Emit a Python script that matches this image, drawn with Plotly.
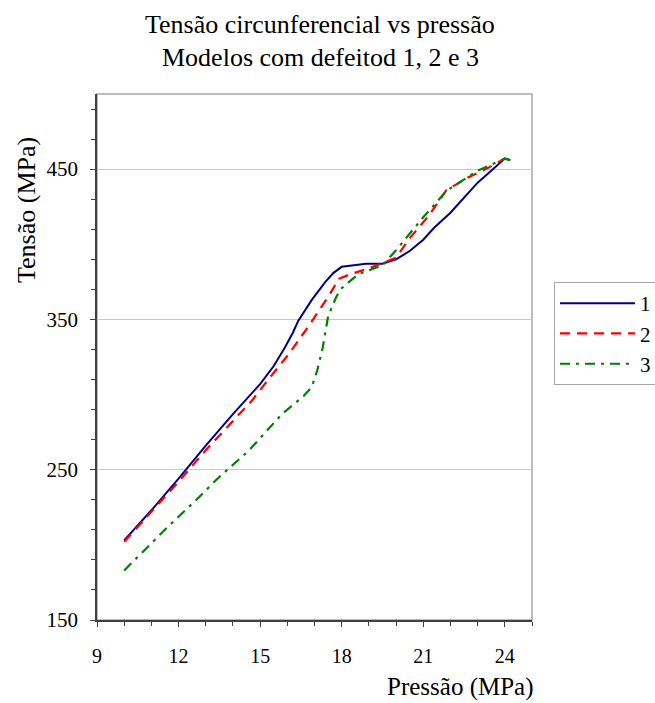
import plotly.graph_objects as go

# Data
p1 = [10, 11, 12, 13, 14, 14.6, 15, 15.5, 15.9, 16.2, 16.4, 16.9, 17.4, 17.7, 18, 18.9, 19.5, 20, 20.5, 21, 21.4, 22, 22.5, 23, 23.5, 24, 24.2]
t1 = [203, 223, 244, 266, 287, 299, 307, 319, 331, 341, 349, 363, 375, 381, 385, 387, 387, 390, 395.5, 403, 411, 421, 431, 441, 449, 457, 456]

p2 = [10, 11, 12, 13, 14, 14.7, 15.3, 16.1, 16.8, 17.5, 17.9, 18.3, 19, 20, 20.5, 21.2, 21.85, 22.65, 23.4, 24, 24.2]
t2 = [202, 222, 242, 263, 282, 296, 310, 328, 346, 365, 377, 380, 384, 391, 404, 419, 436, 444.5, 451, 457, 456]

p3 = [10, 11.55, 12.77, 13.37, 14.6, 15.8, 16.6, 16.9, 17.1, 17.3, 17.5, 17.8, 17.95, 18.6, 19.5, 20, 21, 21.85, 23, 24, 24.2]
t3 = [183, 211, 232, 243, 263, 287, 299, 305, 316, 331, 352, 365, 370, 380, 386, 396, 418, 435.5, 449, 457, 456]

names = ["1", "2", "3"]
title_lines = ["Tensão circunferencial vs pressão", "Modelos com defeitod 1, 2 e 3"]
x_title = "Pressão (MPa)"
y_title = "Tensão (MPa)"

FONT = "Liberation Serif"

fig = go.Figure()
fig.add_trace(go.Scatter(x=p1, y=t1, mode="lines", name=names[0], legendgroup="a",
                         line=dict(color="#000080", width=2)))
fig.add_trace(go.Scatter(x=p2, y=t2, mode="lines", name=names[1], legendgroup="b",
                         line=dict(color="#FF0000", width=2.2, dash="10px,7px")))
fig.add_trace(go.Scatter(x=p3, y=t3, mode="lines", name=names[2], legendgroup="c",
                         line=dict(color="#008000", width=2.2, dash="10px,6px,3px,6px")))

W, H = 655, 703
L, R, T, B = 97, 123, 94, 83
pw, ph = W - L - R, H - T - B

def px(xpix):
    return (xpix - L) / pw

def py(ypix):
    return (H - B - ypix) / ph

fig.update_layout(
    width=W, height=H,
    margin=dict(l=L, r=R, t=T, b=B, pad=0, autoexpand=False),
    paper_bgcolor="white", plot_bgcolor="white",
    font=dict(family=FONT, color="black", size=20),
    showlegend=True,
    legend=dict(xref="container", yref="container", x=554 / W, y=1 - 282 / H,
                xanchor="left", yanchor="top",
                bordercolor="#A6A6A6", borderwidth=1, bgcolor="white",
                font=dict(family=FONT, size=21), itemwidth=75,
                tracegroupgap=13, traceorder="normal"),
    xaxis=dict(range=[9, 25], tick0=9, dtick=3, showgrid=False, zeroline=False,
               showline=True, linecolor="#404040", linewidth=1.5,
               ticks="outside", ticklen=5, tickcolor="#404040",
               ticklabelstandoff=12,
               tickfont=dict(family=FONT, size=20),
               minor=dict(dtick=1, ticks="outside", ticklen=4, tickcolor="#404040", showgrid=False)),
    yaxis=dict(range=[150, 500], tick0=150, dtick=100, showgrid=True, gridcolor="#C8C8C8",
               gridwidth=1, zeroline=False,
               showline=True, linecolor="#404040", linewidth=1.5,
               ticks="outside", ticklen=5, tickcolor="#404040",
               ticklabelstandoff=8,
               tickfont=dict(family=FONT, size=21),
               minor=dict(dtick=20, tick0=150, ticks="outside", ticklen=4, tickcolor="#404040", showgrid=False)),
    shapes=[dict(type="rect", xref="paper", yref="paper", x0=0, x1=1, y0=0, y1=1,
                 line=dict(color="#A6A6A6", width=1.5), layer="below")],
    annotations=[
        dict(text=title_lines[0], xref="paper", yref="paper", x=px(320), y=py(25),
             showarrow=False, xanchor="center", yanchor="middle",
             font=dict(family=FONT, size=26)),
        dict(text=title_lines[1], xref="paper", yref="paper", x=px(320), y=py(57),
             showarrow=False, xanchor="center", yanchor="middle",
             font=dict(family=FONT, size=26)),
        dict(text=x_title, xref="paper", yref="paper", x=px(460), y=py(687),
             showarrow=False, xanchor="center", yanchor="middle",
             font=dict(family=FONT, size=25)),
        dict(text=y_title, xref="paper", yref="paper", x=px(26), y=py(210),
             showarrow=False, xanchor="center", yanchor="middle", textangle=-90,
             font=dict(family=FONT, size=26)),
    ],
)

fig.write_html("out.html")
